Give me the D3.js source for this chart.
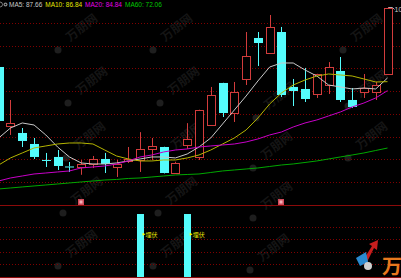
<!DOCTYPE html>
<html>
<head>
<meta charset="utf-8">
<script src="https://cdn.jsdelivr.net/npm/d3@7/dist/d3.min.js"></script>
<style>
html, body { margin: 0; padding: 0; background: #000; overflow: hidden; }
svg { display: block; }
</style>
</head>
<body>
<svg id="chart" width="401" height="278"></svg>
<script>
var opens  = [90.11, 76.97, 75.41, 72.96, 69.40, 70.07, 67.95, 67.84, 68.51, 69.62, 67.84, 69.18, 69.40, 71.85, 72.29, 66.50, 72.74, 70.07, 77.19, 86.55, 79.86, 87.44, 96.57, 93.23, 97.90, 85.66, 85.21, 84.10, 86.10, 89.22, 82.76, 84.54, 84.54, 88.55];
var highs  = [90.30, 82.76, 76.52, 74.30, 70.96, 71.62, 68.95, 69.40, 70.29, 70.96, 69.40, 72.29, 75.60, 74.30, 72.35, 69.00, 77.60, 80.60, 85.66, 86.60, 86.77, 97.90, 97.90, 101.69, 99.02, 87.44, 89.90, 88.60, 91.20, 92.34, 85.43, 88.55, 86.77, 103.47];
var lows   = [77.90, 74.97, 72.29, 69.62, 67.84, 67.17, 66.73, 66.10, 67.60, 66.50, 65.61, 68.73, 66.73, 69.40, 66.40, 66.40, 71.85, 69.40, 77.10, 78.97, 77.86, 86.10, 90.33, 93.00, 83.43, 81.42, 82.31, 83.21, 84.10, 82.31, 80.98, 83.21, 82.76, 88.40];
var closes = [78.08, 77.64, 73.63, 70.07, 69.18, 68.06, 67.84, 68.51, 69.62, 68.51, 68.60, 69.62, 71.85, 72.52, 66.50, 68.73, 74.08, 80.53, 83.87, 79.86, 84.54, 92.56, 95.45, 99.02, 83.87, 84.76, 82.98, 88.55, 90.11, 82.76, 81.20, 85.43, 86.10, 103.25];

var ma5  = [74.30, 76.52, 77.64, 77.19, 74.97, 72.29, 70.07, 68.73, 68.51, 68.51, 68.73, 69.18, 69.62, 70.07, 70.07, 69.85, 70.73, 72.29, 74.30, 77.41, 80.53, 83.65, 86.99, 90.11, 91.00, 91.00, 89.44, 88.10, 86.10, 85.66, 85.21, 85.43, 85.21, 87.66];
var ma10 = [68.28, 69.85, 70.96, 72.07, 72.52, 72.96, 73.18, 73.18, 72.96, 71.62, 70.29, 69.62, 69.18, 69.18, 69.40, 69.40, 69.85, 70.51, 71.62, 72.96, 74.30, 76.08, 78.75, 81.87, 84.32, 86.10, 87.21, 88.10, 88.55, 88.33, 88.10, 87.44, 86.77, 86.84];
var ma20 = [64.72, 65.39, 65.83, 66.28, 66.50, 66.73, 66.95, 67.62, 67.84, 68.06, 68.51, 69.18, 70.07, 70.51, 71.18, 71.62, 71.85, 72.29, 72.52, 72.74, 72.96, 73.41, 74.08, 74.97, 75.63, 76.75, 77.64, 78.31, 79.20, 80.09, 81.20, 82.09, 83.21, 84.84];
var ma60 = [62.94, 63.16, 63.39, 63.61, 63.83, 64.05, 64.28, 64.50, 64.72, 64.94, 65.06, 65.28, 65.39, 65.61, 65.83, 66.06, 66.17, 66.28, 66.61, 66.95, 67.17, 67.39, 67.62, 67.95, 68.28, 68.51, 68.84, 69.18, 69.62, 70.07, 70.51, 70.96, 71.51, 72.06];

var legendNames  = ["MA5", "MA10", "MA20", "MA60"];
var legendValues = [87.66, 86.84, 84.84, 72.06];

// lower panel signal (1 = bar) and its label
var signal = [0, 0, 0, 0, 0, 0, 0, 0, 0, 0, 0, 0, 1, 0, 0, 0, 1, 0, 0, 0, 0, 0, 0, 0, 0, 0, 0, 0, 0, 0, 0, 0, 0, 0];
var signalLabel = "埋伏";
var signalLabelLevel = 0.68;
var signalTicks = [0.2, 0.4, 0.6, 0.8];
var markIdx = [7, 24];

var W = 401, H = 278;
var mainTop = 0, mainBottom = 205, subBottom = 277;
var upColor = "#d23c3c", downColor = "#54fcfc";
var lineColors = ["#c8c8c8", "#b4b400", "#c800c8", "#00a800"];
var textColors = ["#c8c8c8", "#e6e600", "#e600e6", "#00c800"];
var gridColor = "#800000";

var svg = d3.select("#chart");
svg.append("rect").attr("width", W).attr("height", H).attr("fill", "#000");

var x = d3.scaleLinear().domain([0, opens.length - 1]).range([-1.3, 387.5]);
var y = d3.scaleLinear().domain([59.37, 105.03]).range([mainBottom, mainTop]);
var ys = d3.scaleLinear().domain([0, 1.143]).range([subBottom, mainBottom]);

// faint watermarks
var wm = svg.append("g").attr("font-family", "Noto Sans CJK SC").attr("font-weight", "bold").attr("font-size", 12);
[[70, 42], [165, 42], [355, 42], [80, 95], [172, 95], [268, 110], [360, 98], [78, 150], [175, 150], [265, 160], [360, 150], [75, 205], [170, 205], [265, 210], [70, 258], [165, 258], [262, 262]].forEach(function (p) {
    wm.append("text").attr("transform", "translate(" + p[0] + "," + p[1] + ") rotate(-38)").attr("fill", "#151515").text("万朋网");
    wm.append("circle").attr("cx", p[0] - 12).attr("cy", p[1] + 8).attr("r", 3.5).attr("fill", "#1e1e1e");
});

// grid
var grid = svg.append("g");
for (var i = 1; i < 9; i++) {
    var gy = Math.round(i * mainBottom / 9) + 0.5;
    grid.append("line").attr("x1", 0).attr("x2", W).attr("y1", gy).attr("y2", gy)
        .attr("stroke", gridColor).attr("stroke-width", 1).attr("stroke-dasharray", "1,2");
}
grid.selectAll(".st").data(signalTicks).enter().append("line")
    .attr("x1", 0).attr("x2", W)
    .attr("y1", function (d) { return Math.round(ys(d)) + 0.5; })
    .attr("y2", function (d) { return Math.round(ys(d)) + 0.5; })
    .attr("stroke", gridColor).attr("stroke-dasharray", "1,2");
grid.append("line").attr("x1", 0).attr("x2", W).attr("y1", mainBottom + 0.5).attr("y2", mainBottom + 0.5).attr("stroke", "#8b0a0a");
grid.append("line").attr("x1", 0).attr("x2", W).attr("y1", subBottom + 0.5).attr("y2", subBottom + 0.5).attr("stroke", "#8b0a0a");

// candles
var bw = 8;
var candles = svg.append("g").selectAll("g").data(opens).enter().append("g");
candles.each(function (o, i) {
    var g = d3.select(this);
    var c = closes[i], up = c >= o;
    var cx = Math.round(x(i)) + 0.5;
    var top = y(Math.max(o, c)), bot = y(Math.min(o, c));
    var col = up ? upColor : downColor;
    g.append("line").attr("x1", cx).attr("x2", cx).attr("y1", y(highs[i])).attr("y2", top).attr("stroke", col);
    g.append("line").attr("x1", cx).attr("x2", cx).attr("y1", bot).attr("y2", y(lows[i])).attr("stroke", col);
    if (up) {
        g.append("rect").attr("x", cx - bw / 2).attr("y", Math.round(top) + 0.5)
            .attr("width", bw).attr("height", Math.max(1, Math.round(bot - top)))
            .attr("fill", "#000").attr("stroke", col);
    } else {
        g.append("rect").attr("x", cx - bw / 2 - 0.5).attr("y", top)
            .attr("width", bw + 1).attr("height", Math.max(1, bot - top)).attr("fill", col);
    }
});

// moving averages
[ma5, ma10, ma20, ma60].forEach(function (arr, k) {
    svg.append("path").datum(arr)
        .attr("d", d3.line().x(function (d, i) { return x(i); }).y(function (d) { return y(d); }))
        .attr("fill", "none").attr("stroke", lineColors[k]).attr("stroke-width", 1);
});

// highest price marker
var hi = highs.length - 1;
svg.append("path").attr("d", "M" + (x(hi) + 1) + "," + (y(highs[hi]) + 0.5) + "h4l2,2").attr("stroke", "#b0b0b0").attr("fill", "none");
svg.append("text").attr("x", x(hi) + 7).attr("y", y(highs[hi]) + 5)
    .attr("fill", "#c8c8c8").attr("font-family", "Liberation Sans").attr("font-size", 7).text(highs[hi].toFixed(2));

// small markers
svg.append("g").selectAll("rect").data(markIdx).enter().append("rect")
    .attr("x", function (d) { return Math.round(x(d)) - 3; }).attr("y", 199)
    .attr("width", 6).attr("height", 6).attr("fill", "#d24a5a");
svg.append("g").selectAll("rect").data(markIdx).enter().append("rect")
    .attr("x", function (d) { return Math.round(x(d)) - 1.5; }).attr("y", 200.5)
    .attr("width", 3).attr("height", 3).attr("fill", "#f0b0b8");

// lower panel bars
var sub = svg.append("g");
signal.forEach(function (v, i) {
    if (!v) return;
    var cx = x(i);
    sub.append("rect").attr("x", Math.round(cx) - 3).attr("y", ys(v)).attr("width", 7).attr("height", subBottom - ys(v)).attr("fill", downColor);
    var ly = ys(signalLabelLevel);
    sub.append("path").attr("d", "M" + (cx + 2.5) + "," + (ly - 1.5) + "l3,1.5l-3,1.5z").attr("fill", "#ffff00");
    sub.append("text").attr("x", cx + 5.5).attr("y", ly + 2.5).attr("fill", "#e6e600")
        .attr("font-family", "Noto Sans CJK SC").attr("font-size", 6).text(signalLabel);
});

// legend
var leg = svg.append("g").attr("font-family", "Liberation Sans").attr("font-size", 6.5);
leg.append("circle").attr("cx", 0).attr("cy", 4.5).attr("r", 2.5).attr("fill", "none").attr("stroke", "#9a9a9a").attr("stroke-width", 0.8);
leg.append("circle").attr("cx", 5.5).attr("cy", 4.5).attr("r", 2).attr("fill", "#8a8a8a");
leg.append("circle").attr("cx", 5.5).attr("cy", 4.5).attr("r", 0.8).attr("fill", "#000");
var lx = 9;
legendNames.forEach(function (n, k) {
    var t = leg.append("text").attr("x", lx).attr("y", 7).attr("fill", textColors[k]).text(n + ": " + legendValues[k].toFixed(2));
    lx += t.node().getComputedTextLength() + 3;
});

// corner logo
var logo = svg.append("g");
logo.append("path").attr("d", "M362,262 L372,246 L369,244 L378,240 L377,250 L374,248 L366,264 Z").attr("fill", "#c81e1e");
logo.append("path").attr("d", "M356,258 L366,252 L368,262 L360,266 Z").attr("fill", "#2a8ad0");
logo.append("circle").attr("cx", 368).attr("cy", 266).attr("r", 4).attr("fill", "#d0d0d0");
logo.append("text").attr("x", 382).attr("y", 274).attr("fill", "#e8781e").attr("font-family", "Noto Sans CJK SC")
    .attr("font-weight", "bold").attr("font-size", 20).text("万");
</script>
</body>
</html>
